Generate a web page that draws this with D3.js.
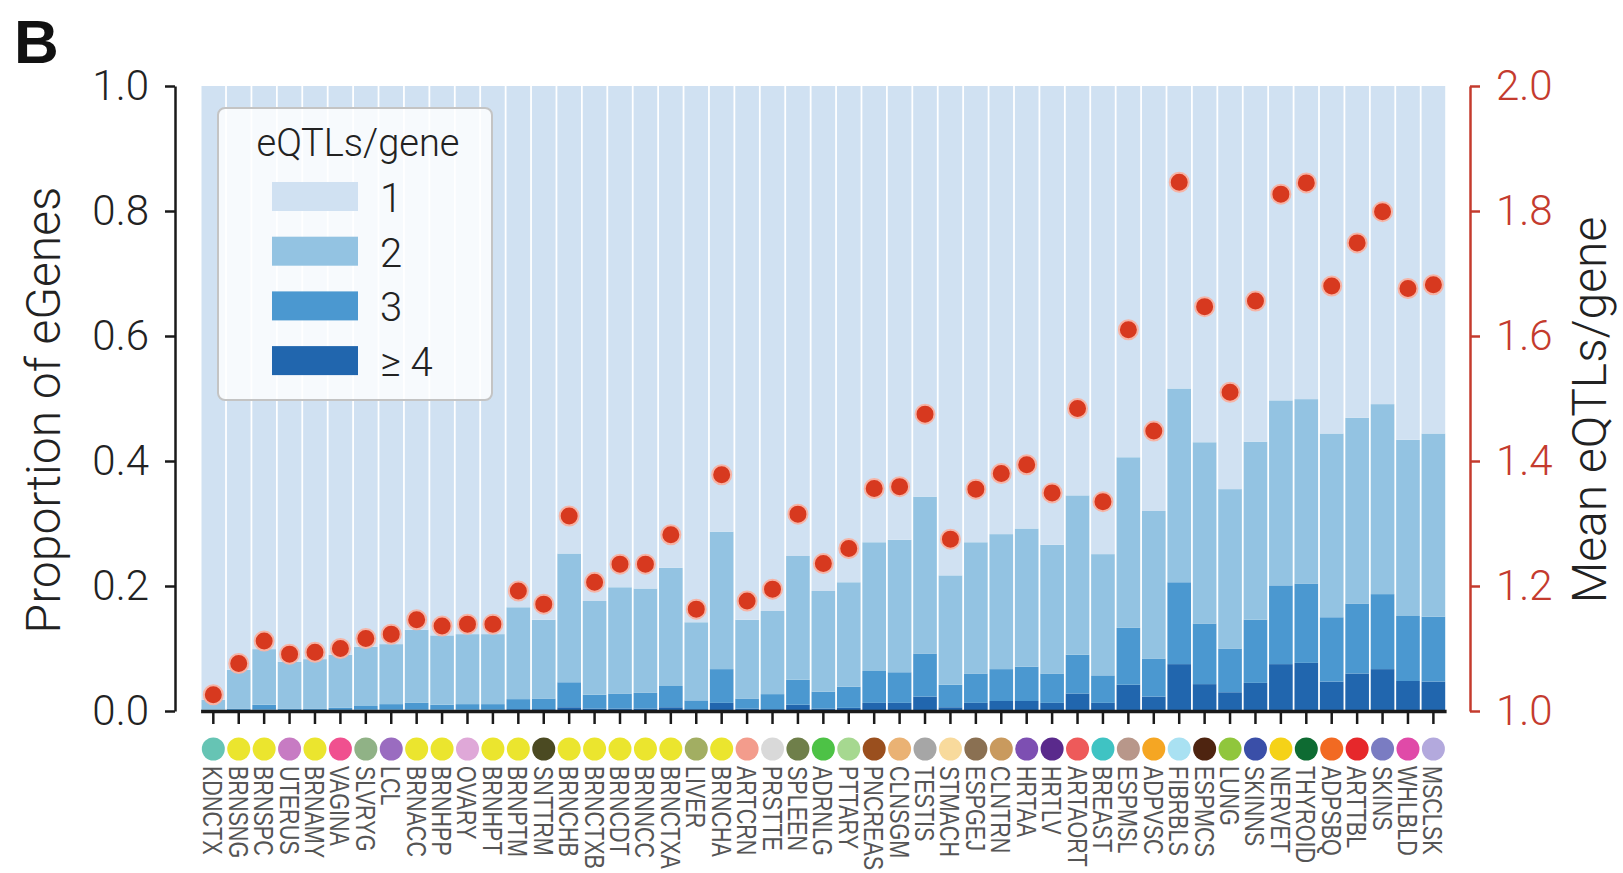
<!DOCTYPE html>
<html>
<head>
<meta charset="utf-8">
<script src="https://cdn.jsdelivr.net/npm/d3@7"></script>
<style>
  body { margin: 0; background: #fff; }
  svg { display: block; }
</style>
</head>
<body>
<div id="chart"></div>
<script>
// tissues in plot order, with their GTEx colour
const tissues = ['KDNCTX', 'BRNSNG', 'BRNSPC', 'UTERUS', 'BRNAMY', 'VAGINA', 'SLVRYG', 'LCL',
  'BRNACC', 'BRNHPP', 'OVARY', 'BRNHPT', 'BRNPTM', 'SNTTRM', 'BRNCHB', 'BRNCTXB', 'BRNCDT',
  'BRNNCC', 'BRNCTXA', 'LIVER', 'BRNCHA', 'ARTCRN', 'PRSTTE', 'SPLEEN', 'ADRNLG', 'PTTARY',
  'PNCREAS', 'CLNSGM', 'TESTIS', 'STMACH', 'ESPGEJ', 'CLNTRN', 'HRTAA', 'HRTLV', 'ARTAORT',
  'BREAST', 'ESPMSL', 'ADPVSC', 'FIBRBLS', 'ESPMCS', 'LUNG', 'SKINNS', 'NERVET', 'THYROID',
  'ADPSBQ', 'ARTTBL', 'SKINS', 'WHLBLD', 'MSCLSK']

const tissueColors = ['#66c4b4', '#ebe52e', '#ebe52e', '#c77bc3', '#ebe52e', '#f0508f', '#90b286', '#9a6cc0',
  '#ebe52e', '#ebe52e', '#dfa8d8', '#ebe52e', '#ebe52e', '#4b4a22', '#ebe52e', '#ebe52e', '#ebe52e',
  '#ebe52e', '#ebe52e', '#a2ae62', '#ebe52e', '#f39c8c', '#d9d9d9', '#6f7f4a', '#4dc246', '#a6d890',
  '#9a4f1e', '#eab274', '#a6a6a6', '#f8da9c', '#8a7052', '#c99a5e', '#7d4fb2', '#5a2a8c', '#ee5a5a',
  '#3fc3c3', '#b8978a', '#f5a623', '#a9e1f2', '#4e2410', '#90c63c', '#3a4fa8', '#f5d218', '#0e6b32',
  '#f26a22', '#e6282b', '#7a7cc2', '#e04aa8', '#b3a9dd']

// proportion of eGenes with at least 2, 3 and 4 eQTLs
const atLeast2 = [0.018, 0.066, 0.099, 0.079, 0.083, 0.090, 0.103, 0.107, 0.130, 0.121, 0.123, 0.123,
  0.166, 0.146, 0.252, 0.176, 0.198, 0.196, 0.229, 0.142, 0.287, 0.146, 0.160, 0.248, 0.192, 0.206,
  0.270, 0.274, 0.343, 0.217, 0.270, 0.283, 0.292, 0.266, 0.345, 0.251, 0.406, 0.320, 0.516, 0.430,
  0.355, 0.431, 0.497, 0.499, 0.444, 0.469, 0.491, 0.434, 0.444]
const atLeast3 = [0.002, 0.004, 0.010, 0.004, 0.004, 0.005, 0.008, 0.011, 0.013, 0.010, 0.011, 0.011,
  0.019, 0.020, 0.046, 0.026, 0.028, 0.029, 0.040, 0.017, 0.067, 0.020, 0.027, 0.050, 0.031, 0.039,
  0.064, 0.062, 0.092, 0.042, 0.060, 0.067, 0.071, 0.060, 0.090, 0.057, 0.133, 0.084, 0.206, 0.140,
  0.100, 0.146, 0.201, 0.204, 0.150, 0.172, 0.187, 0.152, 0.151]
const atLeast4 = [0.001, 0.001, 0.002, 0.001, 0.001, 0.001, 0.002, 0.002, 0.002, 0.002, 0.002, 0.002,
  0.003, 0.003, 0.006, 0.004, 0.004, 0.004, 0.006, 0.003, 0.013, 0.004, 0.003, 0.010, 0.004, 0.005,
  0.013, 0.013, 0.023, 0.006, 0.013, 0.016, 0.016, 0.013, 0.028, 0.013, 0.042, 0.023, 0.075, 0.043,
  0.030, 0.045, 0.075, 0.077, 0.047, 0.060, 0.067, 0.048, 0.047]

// mean eQTLs per eGene (right axis)
const meanEqtls = [1.026, 1.076, 1.112, 1.091, 1.094, 1.100, 1.116, 1.123, 1.146, 1.136, 1.139, 1.139,
  1.192, 1.171, 1.312, 1.206, 1.235, 1.235, 1.282, 1.163, 1.378, 1.176, 1.195, 1.315, 1.236, 1.260,
  1.356, 1.359, 1.475, 1.275, 1.355, 1.380, 1.394, 1.349, 1.484, 1.335, 1.610, 1.448, 1.846, 1.647,
  1.510, 1.656, 1.827, 1.845, 1.680, 1.749, 1.799, 1.676, 1.682]

const countLabels = ['1', '2', '3', '\u2265 4']
const countColors = ['#d0e1f2', '#93c3e2', '#4b98d0', '#2166ae']
const leftTicks = [0, 0.2, 0.4, 0.6, 0.8, 1.0]
const rightTicks = [1.0, 1.2, 1.4, 1.6, 1.8, 2.0]

const eqtlChart = () => {
  var svg         = null,
      width       = 1623,
      height      = 873,
      plot        = { left: 200.6, right: 1446.1, top: 86, bottom: 711 },
      leftAxisX   = 175,
      rightAxisX  = 1470,
      titleMidY   = 410,
      font        = 'Roboto, "Liberation Sans", sans-serif',
      red         = '#c43b2e'

  const self = wrapperId => {
    svg = d3.select(`#${wrapperId}`)
      .append('svg')
      .attr('width', width)
      .attr('height', height)
      .style('font-family', font)
    return self
  }

  self.draw = () => {
    // stack rows: count 1 is everything above >=2
    const rows = tissues.map((t, i) => ({
      tissue: t,
      c1: 1 - atLeast2[i],
      c2: atLeast2[i] - atLeast3[i],
      c3: atLeast3[i] - atLeast4[i],
      c4: atLeast4[i]
    }))
    const keys = ['c4', 'c3', 'c2', 'c1']
    const stacked = d3.stack().keys(keys)(rows)

    var scale = {}
    scale.x = d3.scaleBand()
      .domain(tissues)
      .range([plot.left, plot.right])
      .paddingInner(0.07)
      .paddingOuter(0.035)
    scale.y = d3.scaleLinear().domain([0, 1]).range([plot.bottom, plot.top])
    scale.y2 = d3.scaleLinear().domain([1, 2]).range([plot.bottom, plot.top])
    const colorOf = { c1: countColors[0], c2: countColors[1], c3: countColors[2], c4: countColors[3] }

    // stacked bars
    svg.append('g')
      .selectAll('g')
      .data(stacked)
      .join('g')
        .attr('fill', d => colorOf[d.key])
      .selectAll('rect')
      .data(d => d)
      .join('rect')
        .attr('x', d => scale.x(d.data.tissue))
        .attr('y', d => scale.y(d[1]))
        .attr('width', scale.x.bandwidth())
        .attr('height', d => scale.y(d[0]) - scale.y(d[1]))

    // legend
    const legend = svg.append('g').attr('transform', 'translate(218, 108)')
    legend.append('rect')
      .attr('width', 274)
      .attr('height', 292)
      .attr('rx', 7)
      .attr('fill', '#fff')
      .attr('fill-opacity', 0.82)
      .attr('stroke', '#c4c4c4')
      .attr('stroke-width', 2)
    legend.append('text')
      .attr('x', 140)
      .attr('y', 48)
      .attr('text-anchor', 'middle')
      .attr('font-size', 38)
      .attr('font-weight', 300)
      .attr('fill', '#222')
      .text('eQTLs/gene')
    legend.selectAll('rect.swatch')
      .data(countLabels)
      .join('rect')
        .attr('class', 'swatch')
        .attr('x', 54)
        .attr('y', (d, i) => 74 + i * 54.7)
        .attr('width', 86)
        .attr('height', 29)
        .attr('fill', (d, i) => countColors[i])
    legend.selectAll('text.count')
      .data(countLabels)
      .join('text')
        .attr('class', 'count')
        .attr('x', 162)
        .attr('y', (d, i) => 104 + i * 54.7)
        .attr('font-size', 40)
        .attr('font-weight', 300)
        .attr('fill', '#222')
        .text(d => d)

    // left axis
    const leftAxis = svg.append('g')
      .attr('transform', `translate(${leftAxisX}, 0)`)
      .call(d3.axisLeft(scale.y).tickValues(leftTicks).tickFormat(d3.format('.1f'))
        .tickSize(10).tickSizeOuter(0).tickPadding(16))
    leftAxis.select('.domain').attr('stroke', '#1a1a1a').attr('stroke-width', 2.5)
    leftAxis.selectAll('.tick line').attr('stroke', '#1a1a1a').attr('stroke-width', 2.5)
    leftAxis.selectAll('.tick text')
      .attr('font-size', 42)
      .attr('font-family', font)
      .attr('font-weight', 300)
      .attr('fill', '#222')

    // right axis
    const rightAxis = svg.append('g')
      .attr('transform', `translate(${rightAxisX}, 0)`)
      .call(d3.axisRight(scale.y2).tickValues(rightTicks).tickFormat(d3.format('.1f'))
        .tickSize(10).tickSizeOuter(0).tickPadding(16))
    rightAxis.select('.domain').attr('stroke', red).attr('stroke-width', 2.5)
    rightAxis.selectAll('.tick line').attr('stroke', red).attr('stroke-width', 2.5)
    rightAxis.selectAll('.tick text')
      .attr('font-size', 42)
      .attr('font-family', font)
      .attr('font-weight', 300)
      .attr('fill', red)

    // bottom axis
    const bottomAxis = svg.append('g')
      .attr('transform', `translate(0, ${plot.bottom})`)
      .call(d3.axisBottom(scale.x).tickSize(13).tickSizeOuter(0).tickFormat(''))
    bottomAxis.select('.domain').attr('stroke', '#1a1a1a').attr('stroke-width', 3.5)
    bottomAxis.selectAll('.tick line').attr('stroke', '#1a1a1a').attr('stroke-width', 2.5)

    // mean eQTLs dots
    svg.append('g')
      .selectAll('circle')
      .data(meanEqtls)
      .join('circle')
        .attr('cx', (d, i) => scale.x(tissues[i]) + scale.x.bandwidth() / 2)
        .attr('cy', d => scale.y2(d))
        .attr('r', 9.5)
        .attr('fill', '#d7391f')
        .attr('stroke', '#f6b4a6')
        .attr('stroke-width', 2)

    // tissue colour dots
    svg.append('g')
      .selectAll('circle')
      .data(tissues)
      .join('circle')
        .attr('cx', d => scale.x(d) + scale.x.bandwidth() / 2)
        .attr('cy', 749)
        .attr('r', 11.5)
        .attr('fill', (d, i) => tissueColors[i])

    // tissue names, squeezed along the text
    svg.append('g')
      .selectAll('text')
      .data(tissues)
      .join('text')
        .attr('transform', d => `translate(${scale.x(d) + scale.x.bandwidth() / 2 - 10}, 766) rotate(90) scale(0.77, 1)`)
        .attr('font-family', '"Liberation Sans", Arial, sans-serif')
        .attr('font-size', 28)
        .attr('fill', '#555')
        .text(d => d)

    // axis titles
    svg.append('text')
      .attr('transform', `translate(60, ${titleMidY}) rotate(-90)`)
      .attr('text-anchor', 'middle')
      .attr('font-size', 48)
      .attr('font-weight', 300)
      .attr('fill', '#222')
      .text('Proportion of eGenes')
    svg.append('text')
      .attr('transform', `translate(1606, ${titleMidY}) rotate(-90)`)
      .attr('text-anchor', 'middle')
      .attr('font-size', 48)
      .attr('font-weight', 300)
      .attr('fill', '#222')
      .text('Mean eQTLs/gene')

    // panel letter
    svg.append('text')
      .attr('x', 14)
      .attr('y', 63)
      .attr('font-family', '"Liberation Sans", Arial, sans-serif')
      .attr('font-weight', 'bold')
      .attr('font-size', 62)
      .attr('fill', '#111')
      .text('B')

    return self
  }

  return self
}

eqtlChart()('chart').draw()
</script>
</body>
</html>
